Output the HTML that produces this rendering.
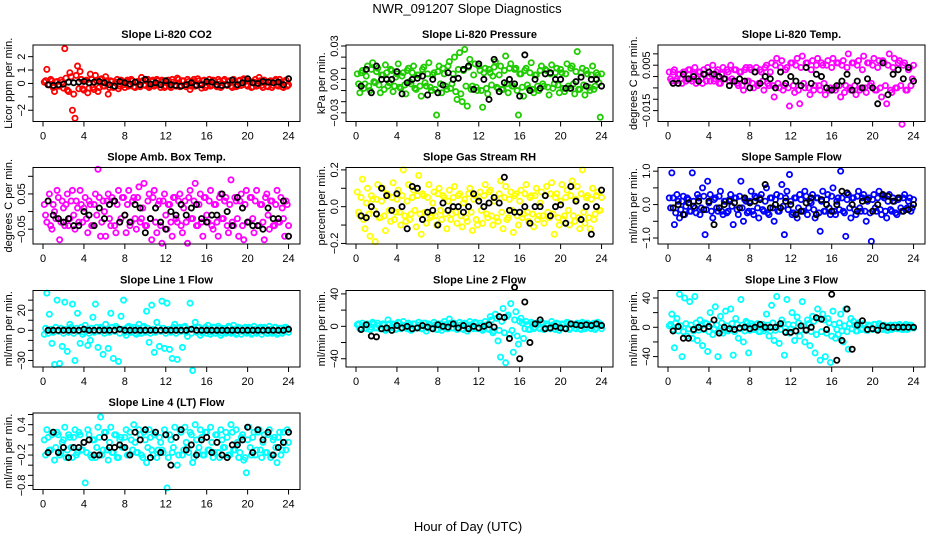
<!DOCTYPE html>
<html><head><meta charset="utf-8"><title>NWR_091207 Slope Diagnostics</title>
<style>
html,body{margin:0;padding:0;background:#fff;}
svg{display:block;font-family:"Liberation Sans",sans-serif;}
</style></head>
<body>
<svg id="chart" width="936" height="540" viewBox="0 0 936 540" xmlns="http://www.w3.org/2000/svg">
<rect x="0" y="0" width="936" height="540" fill="#fff"/>
<text x="467" y="13" font-size="13" text-anchor="middle">NWR_091207  Slope Diagnostics</text>
<text x="468" y="531" font-size="13" text-anchor="middle">Hour of Day (UTC)</text>
</svg>
<script>
const HOURS = [0.125,0.375,0.625,0.875,1.125,1.375,1.625,1.875,2.125,2.375,2.625,2.875,3.125,3.375,3.625,3.875,4.125,4.375,4.625,4.875,5.125,5.375,5.625,5.875,6.125,6.375,6.625,6.875,7.125,7.375,7.625,7.875,8.125,8.375,8.625,8.875,9.125,9.375,9.625,9.875,10.125,10.375,10.625,10.875,11.125,11.375,11.625,11.875,12.125,12.375,12.625,12.875,13.125,13.375,13.625,13.875,14.125,14.375,14.625,14.875,15.125,15.375,15.625,15.875,16.125,16.375,16.625,16.875,17.125,17.375,17.625,17.875,18.125,18.375,18.625,18.875,19.125,19.375,19.625,19.875,20.125,20.375,20.625,20.875,21.125,21.375,21.625,21.875,22.125,22.375,22.625,22.875,23.125,23.375,23.625,23.875];
const HOURS2 = [0.25,0.5,0.75,1,1.25,1.5,1.75,2,2.25,2.5,2.75,3,3.25,3.5,3.75,4,4.25,4.5,4.75,5,5.25,5.5,5.75,6,6.25,6.5,6.75,7,7.25,7.5,7.75,8,8.25,8.5,8.75,9,9.25,9.5,9.75,10,10.25,10.5,10.75,11,11.25,11.5,11.75,12,12.25,12.5,12.75,13,13.25,13.5,13.75,14,14.25,14.5,14.75,15,15.25,15.5,15.75,16,16.25,16.5,16.75,17,17.25,17.5,17.75,18,18.25,18.5,18.75,19,19.25,19.5,19.75,20,20.25,20.5,20.75,21,21.25,21.5,21.75,22,22.25,22.5,22.75,23,23.25,23.5,23.75,24];
const BLACK_HOURS = [0.5,1,1.5,2,2.5,3,3.5,4,4.5,5,5.5,6,6.5,7,7.5,8,8.5,9,9.5,10,10.5,11,11.5,12,12.5,13,13.5,14,14.5,15,15.5,16,16.5,17,17.5,18,18.5,19,19.5,20,20.5,21,21.5,22,22.5,23,23.5,24];
const X_TICKS = [0,4,8,12,16,20,24];

const co2Vals = [0.1,1.05,-0.1,0.2,-0.6,0.15,-0.2,0.1, 2.6,-0.5,0.8,-2.0,-2.6,1.3,0.9,-0.4, 0.2,-0.7,0.7,-0.3,0.6,-0.6,0.3,-0.2, 0.5,-0.8,0.2,-0.3,0.1,-0.4,0.25,-0.1, 0.15,-0.2,0.3,-0.25,0.1,-0.15,0.45,-0.1, 0.2,-0.3,0.15,-0.2,0.3,-0.1,0.25,-0.3, 0.1,-0.2,0.3,-0.15,0.4,-0.25,0.2,-0.1, 0.3,-0.45,0.15,-0.2,0.35,-0.1,0.2,-0.3, 0.1,-0.2,0.25,-0.15,0.3,-0.3,0.2,-0.1, 0.15,-0.2,0.3,-0.25,0.2,-0.15,0.35,-0.1, 0.2,-0.3,0.1,-0.2,0.45,-0.15,0.25,-0.2, 0.15,-0.3,0.2,-0.1,0.3,-0.25,0.1,-0.2];
const co2Vals2 = [0.2,-0.1,0.3,-0.3,0.1,-0.2,0.25,-0.35, 0.4,-0.6,0.5,-0.8,0.6,-0.4,0.3,-0.5, 0.25,-0.35,0.3,-0.45,0.2,-0.3,0.35,-0.2, 0.2,-0.3,0.15,-0.25,0.3,-0.2,0.1,-0.3, 0.25,-0.1,0.2,-0.3,0.15,-0.25,0.2,-0.15, 0.3,-0.2,0.25,-0.1,0.2,-0.3,0.15,-0.2, 0.25,-0.3,0.1,-0.2,0.3,-0.15,0.2,-0.25, 0.15,-0.2,0.3,-0.1,0.2,-0.35,0.25,-0.15, 0.3,-0.1,0.2,-0.25,0.15,-0.2,0.3,-0.15, 0.2,-0.3,0.1,-0.2,0.25,-0.1,0.3,-0.2, 0.15,-0.25,0.3,-0.15,0.2,-0.3,0.1,-0.25, 0.2,-0.15,0.3,-0.2,0.1,-0.3,0.25,-0.1];
const co2Black = [-0.1,-0.15,-0.1,-0.05,0.1,0.05,0.1,0.15,0.05,0.1,0.15,0.05,-0.1,-0.2,0.15,0.05,-0.05,0.1,-0.1,0.3,-0.05,0.05,-0.1,0.2,-0.1,-0.15,-0.2,-0.1,0.05,-0.15,-0.1,0.15,0.1,-0.1,-0.15,-0.1,0.25,-0.1,0.05,0.35,0.05,0.0,0.15,0.1,0.05,0.1,-0.1,0.35];

const pressVals = [0.005,-0.012,0.008,-0.004,0.012,-0.01,0.015,-0.003, 0.01,-0.012,0.004,0.013,-0.006,0.009,-0.011,0.002, 0.014,-0.008,0.006,-0.013,0.01,-0.004,0.012,-0.009, 0.004,-0.015,0.011,-0.006,0.015,-0.01,0.006,-0.032, 0.012,-0.012,0.005,-0.009,0.016,-0.004,0.02,-0.018, 0.024,-0.02,0.027,-0.024,0.018,-0.006,0.014,-0.01, 0.008,-0.025,0.01,-0.013,0.006,0.003,0.016,-0.008, 0.012,-0.009,0.021,-0.012,0.014,-0.006,0.01,-0.032, 0.005,-0.015,0.01,-0.008,0.015,-0.012,0.004,-0.01, 0.012,-0.006,0.008,-0.014,0.013,-0.004,0.01,-0.012, 0.006,-0.011,0.014,-0.008,0.012,-0.013,0.025,-0.009, 0.01,-0.014,0.005,-0.01,0.012,-0.006,0.004,-0.034];
const pressVals2 = [-0.004,0.006,-0.008,0.003,-0.006,0.009,-0.002,0.007, -0.005,0.004,-0.009,0.006,-0.003,0.008,-0.006,0.005, -0.007,0.003,-0.005,0.008,-0.002,0.006,-0.008,0.004, -0.006,0.009,-0.003,0.005,-0.007,0.004,-0.009,0.007, -0.004,0.01,-0.006,0.012,-0.008,0.005,-0.011,0.009, -0.013,0.008,-0.006,0.011,-0.009,0.004,-0.007,0.012, -0.01,0.006,-0.008,0.009,-0.005,0.011,-0.007,0.004, -0.009,0.008,-0.004,0.01,-0.006,0.009,-0.01,0.005, -0.007,0.008,-0.005,0.006,-0.009,0.004,-0.006,0.008, -0.004,0.009,-0.007,0.005,-0.008,0.006,-0.005,0.009, -0.008,0.005,-0.006,0.01,-0.004,0.007,-0.009,0.006, -0.005,0.008,-0.007,0.004,-0.009,0.006,-0.003,0.005];
const pressBlack = [-0.006,0.009,-0.012,0.012,0.0,0.0,0.0,0.007,-0.013,-0.003,0.0,0.001,0.003,-0.014,0.0,-0.012,-0.005,0.006,0.0,0.001,0.009,0.012,-0.009,0.014,0.0,-0.018,0.018,-0.011,-0.003,0.0,-0.004,-0.015,0.022,-0.01,0.0,-0.008,0.005,0.006,0.0,0.0,-0.008,-0.008,-0.002,0.002,-0.006,0.0,0.0,-0.006];

const licorTempVals = [0.002,-0.002,0.003,-0.001,0.001,-0.003,0.002,-0.001, 0.003,-0.002,0.004,-0.001,0.002,-0.003,0.001,0.004, -0.002,0.005,-0.001,0.003,-0.003,0.004,-0.001,0.002, 0.005,-0.002,0.003,-0.004,0.002,-0.006,0.004,-0.002, 0.003,-0.005,0.004,-0.003,0.002,-0.006,0.005,-0.004, 0.006,-0.009,0.008,-0.005,0.007,-0.004,0.004,-0.013, 0.006,-0.007,0.008,-0.012,0.009,-0.005,0.006,-0.008, 0.007,-0.004,0.008,-0.006,0.005,-0.008,0.007,-0.005, 0.008,-0.006,0.006,-0.009,0.007,-0.004,0.01,-0.006, 0.006,-0.008,0.007,-0.005,0.009,-0.007,0.006,-0.003, 0.008,-0.006,0.007,-0.009,0.006,-0.012,0.01,-0.007, 0.008,-0.005,0.007,-0.021,0.006,-0.006,0.004,-0.001];
const licorTempVals2 = [-0.001,0.002,-0.002,0.001,-0.001,0.002,-0.002,0.003, -0.001,0.001,-0.003,0.002,-0.001,0.003,-0.002,0.0, 0.001,-0.002,0.002,-0.003,0.001,-0.001,0.003,-0.002, -0.001,0.003,-0.003,0.002,-0.004,0.003,-0.002,0.004, -0.003,0.002,-0.004,0.003,-0.002,0.004,-0.003,0.002, -0.004,0.005,-0.003,0.004,-0.006,0.003,-0.005,0.006, -0.004,0.005,-0.006,0.004,-0.003,0.006,-0.005,0.003, -0.006,0.005,-0.004,0.006,-0.003,0.005,-0.006,0.004, -0.005,0.006,-0.004,0.005,-0.007,0.004,-0.005,0.006, -0.004,0.005,-0.006,0.003,-0.005,0.006,-0.004,0.005, -0.006,0.004,-0.005,0.007,-0.004,0.005,-0.006,0.004, -0.005,0.006,-0.004,0.005,-0.006,0.003,-0.004,0.005];
const licorTempBlack = [-0.003,-0.003,0.001,-0.001,0.0,-0.002,0.001,0.002,0.001,0.0,-0.001,-0.004,-0.002,-0.001,-0.002,-0.005,0.002,-0.003,0.0,-0.001,-0.005,0.002,-0.003,0.0,-0.002,-0.004,0.004,-0.003,0.001,0.0,-0.005,-0.006,-0.004,-0.002,0.001,-0.006,-0.002,-0.005,-0.001,-0.005,-0.012,0.006,-0.008,0.001,0.003,-0.001,0.004,-0.002];

const ambVals = [0.02,-0.03,0.05,-0.05,0.0,0.06,-0.08,0.03, -0.04,0.05,-0.02,0.06,-0.05,0.01,0.06,-0.03, 0.04,-0.06,0.02,-0.04,0.05,0.12,-0.07,0.03, -0.07,0.05,-0.04,0.03,-0.06,0.06,-0.02,0.04, -0.06,0.06,-0.03,0.04,-0.05,0.07,-0.02,0.08, -0.04,0.05,-0.08,0.06,-0.06,0.03,-0.09,0.05, -0.05,0.02,-0.07,0.04,-0.03,0.05,-0.06,0.03, -0.09,0.06,-0.02,0.08,-0.04,0.05,-0.07,0.04, -0.03,0.06,-0.05,0.02,-0.07,0.05,-0.02,0.04, -0.06,0.09,-0.04,0.03,-0.07,0.05,-0.08,0.06, -0.03,0.04,-0.06,0.06,-0.04,0.02,-0.08,0.05, -0.05,0.03,-0.04,0.06,-0.03,0.01,-0.07,0.02];
const ambVals2 = [-0.01,0.03,-0.04,0.02,-0.02,0.04,-0.03,0.01, 0.02,-0.04,0.03,-0.01,0.03,-0.03,0.02,0.01, -0.02,0.03,-0.04,0.02,-0.01,0.04,-0.03,0.0, 0.03,-0.02,0.04,-0.04,0.02,-0.03,0.04,-0.01, 0.02,-0.04,0.03,-0.02,0.04,-0.03,0.01,-0.04, 0.03,-0.02,0.04,-0.03,0.02,-0.04,0.03,-0.01, 0.02,-0.03,0.04,-0.02,0.03,-0.04,0.01,-0.03, 0.04,-0.02,0.03,-0.04,0.02,-0.03,0.04,-0.01, 0.03,-0.04,0.02,-0.03,0.04,-0.02,0.03,-0.04, 0.02,-0.03,0.04,-0.02,0.03,-0.04,0.02,-0.03, 0.04,-0.02,0.03,-0.04,0.02,-0.03,0.04,-0.01, 0.03,-0.04,0.02,-0.03,0.04,-0.02,0.03,-0.04];
const ambBlack = [0.03,-0.01,-0.02,-0.03,-0.02,-0.04,-0.04,0.0,-0.01,-0.04,0.01,-0.02,0.02,0.03,-0.03,-0.01,-0.03,0.02,0.01,-0.06,-0.02,0.01,-0.03,-0.05,0.0,-0.01,0.02,-0.01,0.01,0.02,-0.02,-0.03,-0.01,-0.01,0.05,0.0,-0.04,0.04,0.01,-0.03,-0.04,-0.04,-0.05,0.01,-0.02,-0.02,0.03,-0.07];

const rhVals = [0.08,-0.05,0.15,-0.12,0.1,-0.16,0.04,-0.19, 0.12,-0.06,0.1,-0.13,0.06,-0.08,0.13,-0.03, 0.09,-0.1,0.2,-0.08,0.12,-0.04,0.09,-0.11, 0.17,-0.15,0.06,-0.09,0.12,-0.05,0.08,-0.1, 0.1,-0.07,0.05,-0.12,0.09,-0.04,0.11,-0.09, 0.07,-0.11,0.04,-0.08,0.1,-0.13,0.06,-0.1, 0.08,-0.09,0.12,-0.06,0.09,-0.1,0.05,-0.08, 0.14,-0.12,0.11,-0.06,0.08,-0.14,0.07,-0.1, 0.09,-0.04,0.12,-0.08,0.06,-0.11,0.1,-0.05, 0.08,-0.09,0.11,-0.06,0.13,-0.15,0.07,-0.1, 0.12,-0.05,0.09,-0.1,0.14,-0.08,0.11,-0.12, 0.2,-0.09,0.06,-0.12,0.1,-0.04,0.08,-0.02];
const rhVals2 = [-0.03,0.05,-0.07,0.02,-0.04,0.06,-0.02,0.04, -0.06,0.03,-0.05,0.07,-0.02,0.05,-0.07,0.04, -0.03,0.06,-0.05,0.03,-0.07,0.05,-0.02,0.06, -0.04,0.07,-0.03,0.05,-0.06,0.02,-0.05,0.07, -0.02,0.06,-0.04,0.03,-0.07,0.05,-0.03,0.06, -0.05,0.02,-0.06,0.07,-0.03,0.04,-0.07,0.05, -0.02,0.06,-0.04,0.08,-0.05,0.03,-0.06,0.07, -0.03,0.05,-0.07,0.04,-0.02,0.06,-0.05,0.03, -0.06,0.07,-0.03,0.05,-0.04,0.06,-0.07,0.02, -0.05,0.06,-0.03,0.07,-0.04,0.05,-0.06,0.03, -0.07,0.05,-0.02,0.06,-0.05,0.04,-0.06,0.07, -0.03,0.05,-0.06,0.04,-0.07,0.06,-0.02,0.05];
const rhBlack = [-0.05,-0.06,0.0,-0.04,0.1,0.06,-0.02,0.07,0.0,-0.12,0.11,0.1,-0.07,-0.03,-0.02,-0.1,0.02,-0.02,0.0,0.0,-0.03,0.0,0.07,0.03,0.0,0.02,0.05,0.02,0.16,-0.02,-0.03,-0.03,0.0,-0.09,0.0,0.0,0.06,-0.05,0.0,0.01,-0.09,0.11,0.03,-0.07,0.0,-0.15,0.0,0.09];

const sampleVals = [0.2,0.95,-0.6,0.3,-0.4,0.1,-0.3,0.2, -0.2,0.95,-0.1,0.3,-0.3,0.5,-0.9,0.7, 0.3,-0.4,0.2,-0.2,0.4,-0.3,0.1,-0.2, 0.3,-0.6,0.2,-0.3,0.7,-0.5,0.1,-0.2, 0.4,-0.3,0.2,-0.4,0.3,-0.2,0.5,-0.3, 0.2,-0.5,0.3,-0.2,0.6,-0.9,0.4,0.9, -0.3,0.2,-0.4,0.3,-0.2,0.4,-0.3,0.1, 0.3,-0.4,0.2,-0.8,0.4,-0.2,0.3,-0.3, 0.5,-0.3,0.2,1.0,-0.2,-0.95,0.3,-0.4, 0.2,-0.3,0.4,-0.2,0.3,-0.5,0.2,-1.1, 0.3,-0.2,0.4,-0.3,0.2,-0.4,0.3,-0.2, 0.1,-0.3,0.2,-0.2,0.3,-0.1,0.2,-0.1];
const sampleVals2 = [-0.1,0.2,-0.25,0.1,-0.15,0.25,-0.05,0.15, -0.2,0.1,-0.25,0.2,-0.1,0.25,-0.15,0.05, -0.2,0.15,-0.1,0.25,-0.2,0.1,-0.25,0.15, -0.05,0.2,-0.15,0.25,-0.1,0.15,-0.25,0.1, -0.2,0.25,-0.1,0.2,-0.15,0.1,-0.25,0.2, -0.1,0.15,-0.2,0.25,-0.05,0.2,-0.15,0.1, -0.25,0.2,-0.1,0.15,-0.2,0.25,-0.1,0.05, -0.15,0.2,-0.25,0.1,-0.2,0.15,-0.1,0.25, -0.2,0.1,-0.15,0.2,-0.25,0.15,-0.1,0.2, -0.15,0.25,-0.1,0.2,-0.2,0.1,-0.25,0.15, -0.1,0.2,-0.15,0.25,-0.2,0.1,-0.15,0.2, -0.25,0.15,-0.1,0.2,-0.15,0.1,-0.2,0.15];
const sampleBlack = [-0.1,0.0,-0.3,0.05,-0.05,0.1,-0.15,0.1,-0.6,-0.1,0.0,0.1,0.05,-0.1,0.2,0.05,0.1,0.15,0.6,-0.1,0.0,-0.1,0.1,0.0,-0.3,-0.2,0.05,0.2,-0.3,0.15,0.0,-0.2,0.0,0.4,0.35,0.0,-0.2,0.1,0.15,-0.2,0.0,0.3,0.25,0.1,0.2,-0.2,-0.15,0.0];

const line1Vals = [-4,37,16,-13,-34,30,-33,-16, 28,-21,6,26,-30,17,-13,-4, 5,-15,-10,13,26,-17,3,-24, 6,-18,17,-28,4,-31,14,30, -5,4,-2,3,-4,6,-3,4, 19,-12,25,-22,8,-16,29,-18, 27,-19,-28,6,-29,3,-17,4, -6,27,-40,8,3,-5,-3,3, 5,-4,3,-3,4,-5,2,-3, 4,-3,5,-4,3,-4,2,-3, 3,-4,4,-3,2,-4,3,-3, 4,-3,3,-4,2,-3,3,2];
const line1Vals2 = [2,-3,1,-2,3,-1,2,-3, 1,-2,3,-3,2,-1,3,-2, 1,-3,2,-2,3,-1,2,-3, 1,-2,3,-1,2,-3,1,-2, 3,-2,1,-3,2,-1,3,-2, 2,-3,1,-2,3,-1,2,-3, 1,-2,3,-3,2,-1,3,-2, 1,-3,2,-2,3,-1,2,-3, 1,-2,3,-1,2,-3,1,-2, 3,-2,1,-3,2,-1,3,-2, 2,-3,1,-2,3,-1,2,-3, 1,-2,3,-3,2,-1,3,-2];
const line1Black = [0,0,0,0,0,0,0,1,0,0,0,0,0,0,1,0,0,0,0,0,0,0,0,0,0,0,0,0,1,0,0,0,0,0,0,0,0,0,0,0,0,0,0,0,0,0,0,1];

const line2Vals = [2,-3,4,-2,3,-4,5,-2, 4,-3,3,-5,8,-2,3,-4, 5,-3,6,-2,4,-5,3,-2, 5,-3,4,-6,3,-2,5,-4, 3,-5,6,-3,9,-2,4,-4, 5,-3,4,-6,6,-2,5,-3, 4,-5,6,-3,12,-8,15,-18, -38,22,-45,14,28,-32,18,-22, 10,-15,6,-4,5,-3,4,-2, 5,-4,3,-2,6,-3,4,-5, 3,-2,5,-4,3,-2,4,-3, 5,-3,4,-2,3,-4,5,3];
const line2Vals2 = [3,-2,1,-3,2,-1,3,-2, 1,-3,2,-4,3,-1,2,-3, 4,-2,1,-3,2,-4,3,-1, 2,-3,4,-2,1,-3,2,-4, 3,-1,2,-3,4,-2,1,-3, 2,-4,3,-1,2,-3,4,-2, 1,-3,2,-4,8,-6,10,-5, 6,-8,12,-10,-5,8,-12,6, 4,-3,2,-4,3,-1,2,-3, 4,-2,1,-3,2,-4,3,-1, 2,-3,4,-2,1,-3,2,-4, 3,-1,2,-3,4,-2,1,-3];
const line2Black = [-4,2,-12,-13,-3,-2,-5,1,-2,0, -3,-2,1,-1,-3,2,0,-1,3,-2, 1,-3,0,-2,0,2,-1,12,11,-15, 48,-40,30,-20,3,8,-3,-2,0,-2, -3,3,2,1,2,1,3,1];

const line3Vals = [2,18,-28,12,45,-40,40,-12, 35,-15,42,-18,10,-25,6,-33, 20,-10,28,-40,15,-8,22,-5, 25,-38,12,-15,38,-20,8,-35, 5,-3,4,-6,3,-5,18,-12, 30,-18,42,-22,10,-38,38,-8, 20,-18,14,-12,35,-20,10,-25, 15,-35,25,-45,18,-40,12,-48, 22,-15,-10,18,-20,25,-30,12, 8,-5,6,-3,5,-4,3,-2, 4,-3,5,-2,3,-4,2,-3, 3,-2,4,-3,2,-3,3,1];
const line3Vals2 = [4,-3,6,-5,2,-6,5,-2, 3,-5,6,-4,2,-3,5,-6, 4,-2,3,-5,6,-4,2,-3, 5,-6,4,-2,3,-5,6,-4, 2,-3,5,-6,4,-2,3,-5, 6,-4,2,-3,5,-6,4,-2, 3,-5,6,-4,2,-3,5,-6, 8,-10,12,-6,10,-8,6,-12, 4,-3,6,-5,2,-6,5,-2, 3,-5,4,-2,3,-4,2,-3, 4,-2,3,-3,2,-4,3,-2, 3,-2,2,-3,4,-2,3,-1];
const line3Black = [-5,1,-15,-15,-3,0,-2,1,10,-8, 0,-2,-3,-1,0,-2,0,4,0,0, 0,5,-7,-7,-5,2,-4,0,13,11, -3,45,-45,-18,25,-30,3,9,-3,-2, -4,2,0,0,0,0,0,0];

const line4Vals = [0.1,0.3,-0.1,0.2,-0.3,0.25,-0.2,0.05, 0.35,-0.1,0.15,-0.25,0.3,-0.15,0.2,-0.1, -0.75,0.3,-0.2,0.1,-0.25,0.35,0.55,-0.1, 0.25,-0.3,0.35,-0.15,0.2,-0.25,0.15,-0.05, 0.3,-0.2,0.1,0.4,-0.15,0.3,-0.2,0.25, -0.35,0.3,-0.1,0.2,-0.25,0.15,-0.1,0.3, -0.85,0.2,-0.15,0.35,-0.4,0.3,-0.2,0.35, -0.05,0.25,-0.35,0.4,-0.15,0.3,-0.2,0.25, -0.1,0.35,-0.25,0.2,-0.15,0.3,-0.05,0.25, -0.2,0.4,-0.1,0.3,-0.25,0.15,-0.3,-0.55, 0.35,-0.2,0.25,-0.1,0.3,-0.25,0.2,-0.15, 0.3,-0.2,0.15,-0.35,0.25,-0.1,0.05,0.3];
const line4Vals2 = [-0.2,0.15,-0.1,0.25,-0.05,0.2,-0.15,0.1, -0.25,0.2,-0.05,0.15,-0.2,0.25,-0.1,0.05, -0.15,0.2,-0.25,0.1,-0.05,0.15,-0.2,0.25, -0.1,0.05,-0.15,0.2,-0.25,0.1,-0.05,0.15, -0.2,0.25,-0.1,0.05,-0.15,0.2,-0.25,0.1, -0.05,0.15,-0.2,0.25,-0.1,0.05,-0.15,0.2, -0.25,0.1,-0.05,0.15,-0.2,0.25,-0.1,0.05, -0.15,0.2,-0.25,0.1,-0.05,0.15,-0.2,0.25, -0.1,0.05,-0.15,0.2,-0.25,0.1,-0.05,0.15, -0.2,0.25,-0.1,0.05,-0.15,0.2,-0.25,0.1, -0.05,0.15,-0.2,0.25,-0.1,0.05,-0.15,0.2, -0.25,0.1,-0.05,0.15,-0.2,0.25,-0.1,0.05];
const line4Black = [-0.15,0.25,-0.15,-0.05,-0.25,-0.05,-0.05,0.05,0.1,-0.2,-0.2,0.15,-0.05,-0.05,0.0,-0.05,-0.2,0.25,0.1,0.3,-0.25,0.25,-0.15,0.2,-0.4,0.15,0.3,-0.1,0.0,-0.2,0.1,0.15,-0.15,0.05,-0.2,-0.25,0.0,0.0,0.1,0.35,-0.15,0.3,0.1,0.25,-0.2,-0.05,0.05,0.25];

const PANEL_TITLES = ["Slope Li-820 CO2","Slope Li-820 Pressure","Slope Li-820 Temp.","Slope Amb. Box Temp.","Slope Gas Stream RH","Slope Sample Flow","Slope Line 1 Flow","Slope Line 2 Flow","Slope Line 3 Flow","Slope Line 4 (LT) Flow"];
const Y_TITLES = ["Licor ppm per min.","kPa per min.","degrees C per min.","degrees C per min.","percent per min.","ml/min per min.","ml/min per min.","ml/min per min.","ml/min per min.","ml/min per min."];

const panels = [
 {key:"co2",vals:co2Vals,vals2:co2Vals2,black:co2Black,color:"#ff0000",dom:[-2.84,2.87],ticks:[-2,-1,0,1,2],labels:[[2,"2"],[1,"1"],[0,"0"],[-2,"\u22122"]]},
 {key:"pressure",vals:pressVals,vals2:pressVals2,black:pressBlack,color:"#1ecc00",dom:[-0.0378,0.0309],ticks:[-0.03,-0.02,-0.01,0,0.01,0.02,0.03],labels:[[0.03,"0.03"],[0,"0.00"],[-0.03,"\u22120.03"]]},
 {key:"licor-temp",vals:licorTempVals,vals2:licorTempVals2,black:licorTempBlack,color:"#ff00ff",dom:[-0.0198,0.0139],ticks:[-0.015,-0.01,-0.005,0,0.005,0.01],labels:[[0.005,"0.005"],[-0.015,"\u22120.015"]]},
 {key:"amb-box-temp",vals:ambVals,vals2:ambVals2,black:ambBlack,color:"#ff00ff",dom:[-0.092,0.125],ticks:[-0.05,0,0.05,0.1],labels:[[0.05,"0.05"],[-0.05,"\u22120.05"]]},
 {key:"gas-rh",vals:rhVals,vals2:rhVals2,black:rhBlack,color:"#ffff00",dom:[-0.203,0.213],ticks:[-0.2,-0.1,0,0.1,0.2],labels:[[0.2,"0.2"],[0,"0.0"],[-0.2,"\u22120.2"]]},
 {key:"sample-flow",vals:sampleVals,vals2:sampleVals2,black:sampleBlack,color:"#0000ff",dom:[-1.18,1.11],ticks:[-1,-0.5,0,0.5,1],labels:[[1,"1.0"],[0,"0.0"],[-1,"\u22121.0"]]},
 {key:"line1-flow",vals:line1Vals,vals2:line1Vals2,black:line1Black,color:"#00ffff",dom:[-36.5,39.6],ticks:[-30,-20,-10,0,10,20,30],labels:[[20,"20"],[0,"0"],[-30,"\u221230"]]},
 {key:"line2-flow",vals:line2Vals,vals2:line2Vals2,black:line2Black,color:"#00ffff",dom:[-50.2,44.2],ticks:[-40,-20,0,20,40],labels:[[40,"40"],[0,"0"],[-40,"\u221240"]]},
 {key:"line3-flow",vals:line3Vals,vals2:line3Vals2,black:line3Black,color:"#00ffff",dom:[-54.2,50.2],ticks:[-40,-20,0,20,40],labels:[[40,"40"],[0,"0"],[-40,"\u221240"]]},
 {key:"line4-flow",vals:line4Vals,vals2:line4Vals2,black:line4Black,color:"#00ffff",dom:[-0.88,0.63],ticks:[-0.8,-0.6,-0.4,-0.2,0,0.2,0.4,0.6],labels:[[0.4,"0.4"],[-0.2,"\u22120.2"],[-0.8,"\u22120.8"]]}
];

const NS = "http://www.w3.org/2000/svg";
const svg = document.getElementById("chart");
const COL_LEFT = [33, 346, 658];
const ROW_TOP = [45, 167.5, 290.5, 413];
const BOX_W = 267, BOX_H = 76.5;
const X_DOM = [-0.978, 25.12];

function mk(tag, attrs, parent) {
  const e = document.createElementNS(NS, tag);
  for (const k in attrs) e.setAttribute(k, attrs[k]);
  (parent || svg).appendChild(e);
  return e;
}
function xScale(left) { return v => left + (v - X_DOM[0]) / (X_DOM[1] - X_DOM[0]) * BOX_W; }
function yScale(top, dom) { return v => top + (dom[1] - v) / (dom[1] - dom[0]) * BOX_H; }

panels.forEach((p, i) => {
  const left = COL_LEFT[i % 3], top = ROW_TOP[Math.floor(i / 3)];
  const x = xScale(left), y = yScale(top, p.dom);
  const g = mk("g", {});
  
  

  const title = mk("text", {x: left + BOX_W / 2, y: top - 7, "font-size": 11, "font-weight": "bold", "text-anchor": "middle"}, g);
  title.textContent = PANEL_TITLES[i];
  
  

  const yt = mk("text", {x: 0, y: 0, "font-size": 11, "text-anchor": "middle", transform: "translate(" + (left - 21) + "," + (top + BOX_H / 2) + ") rotate(-90)"}, g);
  yt.textContent = Y_TITLES[i];
  
  

  const pts = mk("g", {fill: "none", stroke: p.color, "stroke-width": 1.8}, g);
  
  
  p.vals2.forEach((v, k) => {
    const c = mk("circle", {cx: x(HOURS2[k]).toFixed(2), cy: y(v).toFixed(2), r: 2.6}, pts);
    
    
  });
  p.vals.forEach((v, k) => {
    const c = mk("circle", {cx: x(HOURS[k]).toFixed(2), cy: y(v).toFixed(2), r: 2.6}, pts);
    
    
  });
  const bpts = mk("g", {fill: "none", stroke: "#000", "stroke-width": 1.8}, g);
  
  
  p.black.forEach((v, k) => {
    const c = mk("circle", {cx: x(BLACK_HOURS[k]).toFixed(2), cy: y(v).toFixed(2), r: 2.6}, bpts);
    
    
  });

  const box = mk("rect", {x: left, y: top, width: BOX_W, height: BOX_H, fill: "none", stroke: "#000", "stroke-width": 1}, g);
  
  

  const xa = mk("g", {stroke: "#000", "stroke-width": 1}, g);
  
  
  mk("line", {x1: x(X_TICKS[0]), x2: x(X_TICKS[X_TICKS.length - 1]), y1: top + BOX_H, y2: top + BOX_H}, xa);
  X_TICKS.forEach(t => {
    const tk = mk("line", {x1: x(t), x2: x(t), y1: top + BOX_H, y2: top + BOX_H + 5}, xa);
    
    
    const tl = mk("text", {x: x(t), y: top + BOX_H + 18, "font-size": 11, "text-anchor": "middle", stroke: "none", fill: "#000"}, xa);
    tl.textContent = t;
    
    
  });

  const ya = mk("g", {stroke: "#000", "stroke-width": 1}, g);
  
  
  const tmin = Math.min.apply(null, p.ticks), tmax = Math.max.apply(null, p.ticks);
  mk("line", {x1: left, x2: left, y1: y(tmin), y2: y(tmax)}, ya);
  p.ticks.forEach(t => {
    const tk = mk("line", {x1: left - 5, x2: left, y1: y(t), y2: y(t)}, ya);
    
    
  });
  p.labels.forEach(l => {
    const tl = mk("text", {x: 0, y: 0, "font-size": 11, "text-anchor": "middle", stroke: "none", fill: "#000", transform: "translate(" + (left - 8) + "," + y(l[0]).toFixed(2) + ") rotate(-90)"}, ya);
    tl.textContent = l[1];
    
    
  });
});
</script>
</body></html>
